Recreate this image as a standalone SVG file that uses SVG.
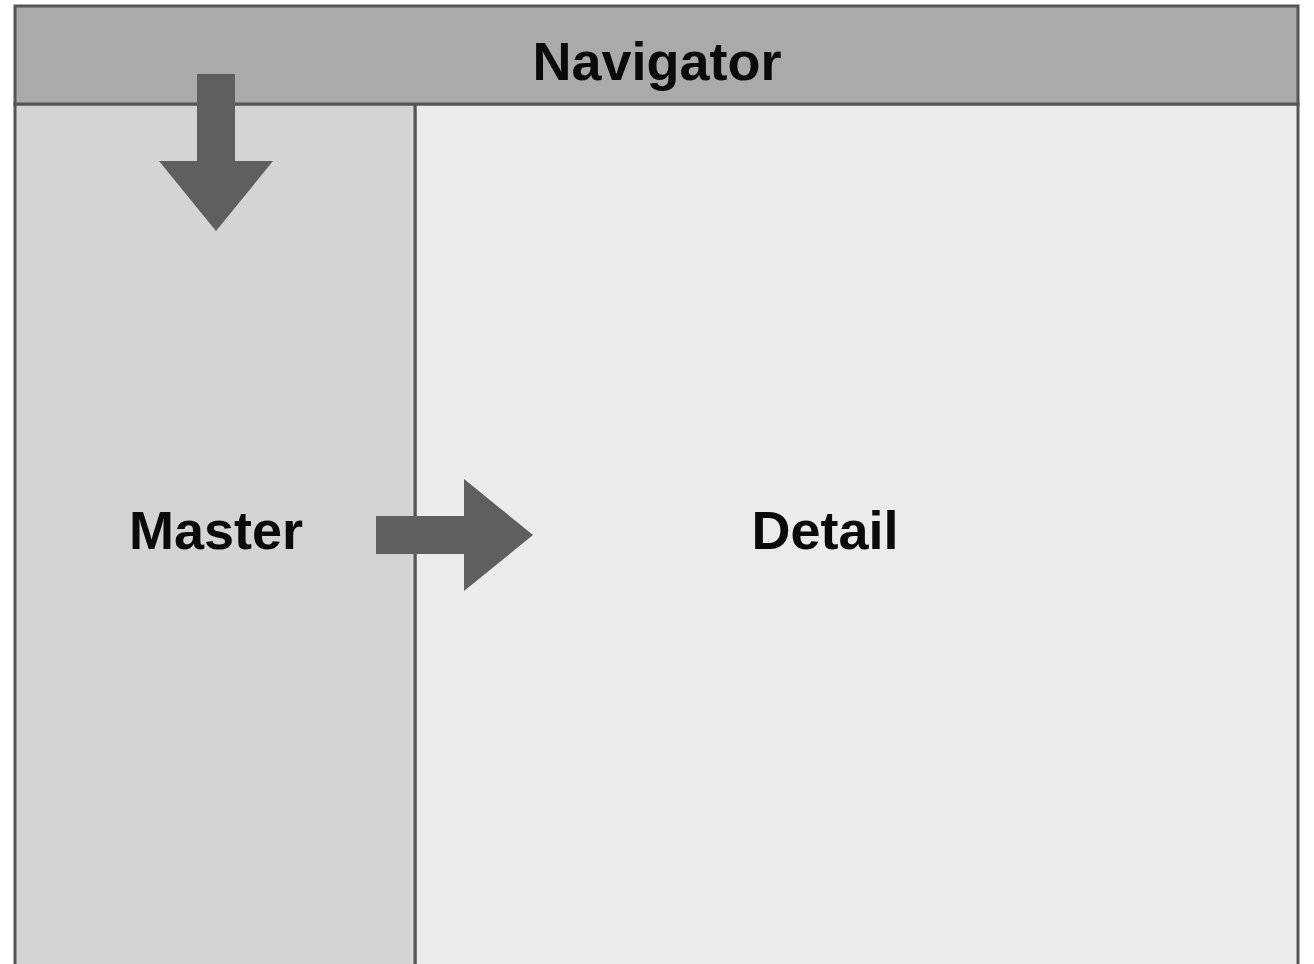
<svg xmlns="http://www.w3.org/2000/svg" width="1314" height="964" viewBox="0 0 1314 964">
<style>
.panel{stroke:#555555;stroke-width:3}
.lbl{font-family:"Liberation Sans",Arial,sans-serif;font-weight:bold;font-size:54px;fill:#0a0a0a;text-anchor:middle}
.arrow{fill:#5f5f5f}
</style>
<rect width="1314" height="964" fill="#ffffff"/>
<g id="detail">
<rect class="panel" x="415" y="104" width="883" height="864" fill="#ebebeb"/>
<text class="lbl" x="825" y="549">Detail</text>
</g>
<g id="master">
<rect class="panel" x="15" y="104" width="400" height="864" fill="#d4d4d4"/>
<text class="lbl" x="216" y="549">Master</text>
</g>
<g id="navigator">
<rect class="panel" x="15" y="6" width="1283" height="98" fill="#aaaaaa"/>
<text class="lbl" x="657" y="80">Navigator</text>
</g>
<g id="connectors">
<polygon class="arrow" points="197,74 235,74 235,161 273,161 216,231 159,161 197,161"/>
<polygon class="arrow" points="376,516 464,516 464,479 533,535 464,591 464,554 376,554"/>
</g>
</svg>
